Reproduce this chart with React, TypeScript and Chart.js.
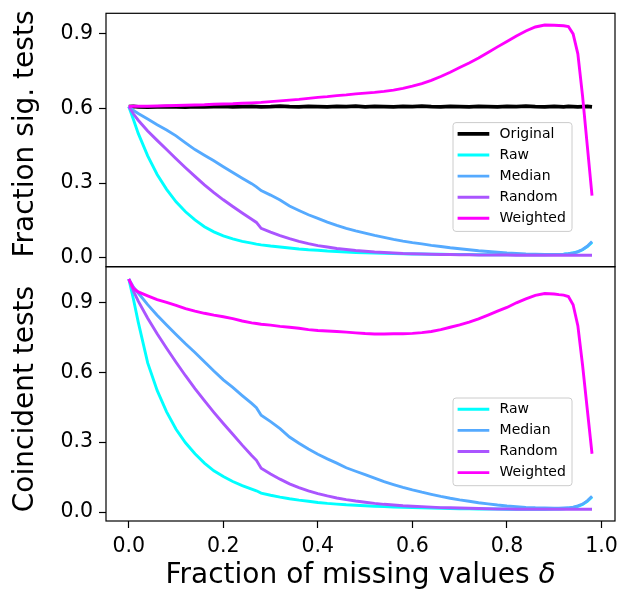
import React, { useEffect, useRef } from "react";
import { Chart, registerables } from "chart.js";
Chart.register(...registerables);

const FONT = "'DejaVu Sans', sans-serif";
const W = 621;
const H = 589;
const AX_LEFT = 106;
const AX_RIGHT = 615;
const TOP1 = 13.3;
const MID = 266.7;
const BOT2 = 521;

// ---- data ----
const xValues = [
  0, 0.01, 0.02, 0.04, 0.06, 0.08, 0.1, 0.12,
  0.14, 0.16, 0.18, 0.2, 0.22, 0.24, 0.26, 0.27,
  0.28, 0.3, 0.32, 0.34, 0.36, 0.38, 0.4, 0.42,
  0.44, 0.46, 0.48, 0.5, 0.52, 0.54, 0.56, 0.58,
  0.6, 0.62, 0.64, 0.66, 0.68, 0.7, 0.72, 0.74,
  0.76, 0.78, 0.8, 0.82, 0.84, 0.86, 0.88, 0.9,
  0.91, 0.92, 0.93, 0.94, 0.95, 0.96, 0.97, 0.98,
];

const topOriginal = [
  0.608, 0.609, 0.607, 0.606, 0.607, 0.608, 0.607, 0.606,
  0.608, 0.607, 0.608, 0.609, 0.607, 0.608, 0.609, 0.608,
  0.607, 0.608, 0.61, 0.608, 0.607, 0.609, 0.608, 0.607,
  0.609, 0.608, 0.61, 0.607, 0.609, 0.608, 0.607, 0.609,
  0.608, 0.61, 0.608, 0.607, 0.609, 0.608, 0.607, 0.609,
  0.608, 0.607, 0.609, 0.608, 0.61, 0.608, 0.607, 0.609,
  0.608, 0.607, 0.609, 0.608, 0.607, 0.608, 0.609, 0.607,
];
const topRaw = [
  0.608, 0.555, 0.5, 0.41, 0.335, 0.275, 0.225, 0.185,
  0.152, 0.125, 0.104, 0.088, 0.076, 0.066, 0.059, 0.055,
  0.052, 0.047, 0.043, 0.039, 0.035, 0.032, 0.03, 0.027,
  0.025, 0.023, 0.021, 0.02, 0.019, 0.018, 0.017, 0.016,
  0.015, 0.015, 0.014, 0.014, 0.013, 0.013, 0.013, 0.012,
  0.012, 0.012, 0.012, 0.012, 0.012, 0.012, 0.012, 0.013,
  0.013, 0.014, 0.016, 0.019, 0.024, 0.032, 0.045, 0.062,
];
const topMedian = [
  0.608, 0.592, 0.58, 0.558, 0.535, 0.514, 0.49, 0.462,
  0.435, 0.412, 0.39, 0.366, 0.343, 0.32, 0.298, 0.285,
  0.27, 0.252, 0.232, 0.208, 0.19, 0.173, 0.158, 0.143,
  0.13, 0.118, 0.108, 0.099, 0.09, 0.082, 0.074, 0.067,
  0.061, 0.056, 0.05, 0.045, 0.04, 0.036, 0.032, 0.028,
  0.025, 0.022, 0.019, 0.017, 0.015, 0.014, 0.013, 0.013,
  0.013, 0.014, 0.016, 0.019, 0.025, 0.033, 0.046, 0.065,
];
const topRandom = [
  0.608, 0.578, 0.553, 0.51, 0.472, 0.435, 0.398, 0.362,
  0.327, 0.293, 0.262, 0.233, 0.206, 0.18, 0.155, 0.142,
  0.118, 0.103, 0.089, 0.077, 0.066, 0.057, 0.049, 0.043,
  0.037, 0.033, 0.029, 0.026, 0.023, 0.021, 0.019, 0.017,
  0.016, 0.015, 0.014, 0.013, 0.013, 0.012, 0.012, 0.011,
  0.011, 0.011, 0.011, 0.01, 0.01, 0.01, 0.01, 0.01,
  0.01, 0.01, 0.01, 0.01, 0.01, 0.01, 0.01, 0.01,
];
const topWeighted = [
  0.608, 0.609, 0.609, 0.609, 0.61, 0.611, 0.612, 0.613,
  0.614, 0.615, 0.617, 0.618, 0.619, 0.621, 0.623, 0.624,
  0.625, 0.628, 0.631, 0.634, 0.637, 0.641, 0.645, 0.648,
  0.652, 0.655, 0.659, 0.662, 0.665, 0.669, 0.674, 0.681,
  0.69, 0.7, 0.713, 0.729, 0.746, 0.765, 0.783, 0.803,
  0.825, 0.848, 0.87, 0.892, 0.912, 0.928, 0.936, 0.935,
  0.934, 0.933, 0.93, 0.9, 0.82, 0.65, 0.45, 0.25,
];

const bottomRaw = [
  1.0, 0.912, 0.815, 0.64, 0.522, 0.43, 0.355, 0.297,
  0.25, 0.21, 0.177, 0.152, 0.131, 0.113, 0.098, 0.091,
  0.081, 0.072, 0.064, 0.057, 0.051, 0.046, 0.041, 0.037,
  0.034, 0.031, 0.029, 0.027, 0.025, 0.023, 0.021, 0.02,
  0.019, 0.018, 0.017, 0.016, 0.015, 0.014, 0.014, 0.013,
  0.013, 0.013, 0.012, 0.012, 0.012, 0.012, 0.012, 0.013,
  0.013, 0.014, 0.016, 0.019, 0.024, 0.032, 0.046, 0.065,
];
const bottomMedian = [
  1.0, 0.965, 0.94, 0.89, 0.845, 0.803, 0.762, 0.722,
  0.685, 0.645, 0.605, 0.567, 0.535, 0.5, 0.466, 0.448,
  0.415, 0.388, 0.358, 0.322, 0.295, 0.27, 0.248, 0.228,
  0.21, 0.19, 0.175, 0.16, 0.145, 0.13, 0.118, 0.106,
  0.095, 0.085, 0.076, 0.067, 0.059, 0.052, 0.046, 0.04,
  0.035, 0.03, 0.026, 0.023, 0.02, 0.018, 0.017, 0.016,
  0.016, 0.017, 0.018, 0.021, 0.026, 0.034, 0.048, 0.068,
];
const bottomRandom = [
  1.0, 0.948, 0.905, 0.832, 0.765, 0.703, 0.643, 0.585,
  0.53, 0.478, 0.428, 0.38, 0.334, 0.287, 0.243, 0.222,
  0.188, 0.163, 0.141, 0.121, 0.105, 0.091, 0.079, 0.069,
  0.06, 0.053, 0.047, 0.042, 0.037, 0.033, 0.03, 0.027,
  0.025, 0.023, 0.021, 0.019, 0.018, 0.017, 0.016, 0.015,
  0.014, 0.013, 0.013, 0.012, 0.012, 0.012, 0.012, 0.012,
  0.012, 0.012, 0.012, 0.012, 0.012, 0.012, 0.012, 0.012,
];
const bottomWeighted = [
  1.0, 0.96, 0.945, 0.928, 0.912, 0.9, 0.887, 0.873,
  0.862, 0.853, 0.845, 0.838, 0.83, 0.82, 0.812, 0.809,
  0.806, 0.802, 0.797, 0.793, 0.789, 0.783, 0.779, 0.777,
  0.775, 0.772, 0.769, 0.766, 0.764, 0.764, 0.765, 0.765,
  0.767, 0.77, 0.775, 0.783, 0.793, 0.803, 0.815, 0.829,
  0.845, 0.862, 0.878, 0.898, 0.915, 0.93, 0.938, 0.936,
  0.933, 0.931, 0.925, 0.89, 0.8, 0.63, 0.44, 0.25,
];

const topLabels = ["Original", "Raw", "Median", "Random", "Weighted"];
const bottomLabels = ["Raw", "Median", "Random", "Weighted"];
const yTickValues = [0, 0.3, 0.6, 0.9];
const xTickValues = [0, 0.2, 0.4, 0.6, 0.8, 1.0];
const xRange = [-0.0482, 1.0286];
const topYRange = [-0.036, 0.983];
const bottomYRange = [-0.0386, 1.053];
const topYTitle = "Fraction sig. tests";
const bottomYTitle = "Coincident tests";
const xTitle = "Fraction of missing values ";
const xTitleSymbol = "δ";

// ---- styles ----
const COLORS: Record<string, string> = {
  Original: "#000000",
  Raw: "#00ffff",
  Median: "#55aaff",
  Random: "#aa55ff",
  Weighted: "#ff00ff",
};
const WIDTHS: Record<string, number> = {
  Original: 3.8,
  Raw: 2.9,
  Median: 2.9,
  Random: 2.9,
  Weighted: 2.9,
};
const TICK_SIZE = 20.5;

function makeDatasets(labels: string[], series: number[][]) {
  return labels.map((label, i) => ({
    label,
    data: xValues.map((x, j) => ({ x, y: series[i][j] })),
    borderColor: COLORS[label],
    backgroundColor: COLORS[label],
    borderWidth: WIDTHS[label],
    pointRadius: 0,
    fill: false,
    tension: 0,
    order: labels.length - i,
  }));
}

const decorPlugin = {
  id: "decor",
  afterDatasetsDraw(chart: any, _args: any, opts: any) {
    const { ctx, chartArea: a } = chart;
    ctx.save();
    // frame
    ctx.strokeStyle = "#000";
    ctx.lineWidth = 1.2;
    ctx.strokeRect(a.left, a.top, a.right - a.left, a.bottom - a.top);

    // legend
    const ds = chart.data.datasets;
    const rowH = 21.1;
    const boxW = 119;
    const boxH = ds.length * rowH + 3.3;
    const bx = a.right - 43 - boxW;
    const by = a.bottom - 35.3 - boxH;
    ctx.beginPath();
    if ((ctx as any).roundRect) (ctx as any).roundRect(bx, by, boxW, boxH, 3);
    else ctx.rect(bx, by, boxW, boxH);
    ctx.fillStyle = "rgba(255,255,255,0.8)";
    ctx.fill();
    ctx.strokeStyle = "#cccccc";
    ctx.lineWidth = 1;
    ctx.stroke();
    ctx.font = `14px ${FONT}`;
    ctx.textAlign = "left";
    ctx.textBaseline = "middle";
    ds.forEach((d: any, i: number) => {
      const cy = by + 11.3 + i * rowH;
      ctx.beginPath();
      ctx.strokeStyle = d.borderColor;
      ctx.lineWidth = d.borderWidth;
      ctx.moveTo(bx + 4.6, cy);
      ctx.lineTo(bx + 36.3, cy);
      ctx.stroke();
      ctx.fillStyle = "#000";
      ctx.fillText(d.label, bx + 46.6, cy);
    });

    // y title
    ctx.font = `28px ${FONT}`;
    ctx.fillStyle = "#000";
    ctx.textAlign = "center";
    ctx.textBaseline = "alphabetic";
    ctx.save();
    ctx.translate(33.3, opts.titleY);
    ctx.rotate(-Math.PI / 2);
    ctx.fillText(opts.yTitle, 0, 0);
    ctx.restore();

    // x title
    if (opts.showX) {
      ctx.textAlign = "left";
      ctx.font = `28px ${FONT}`;
      const w1 = ctx.measureText(xTitle).width;
      ctx.font = `italic 28px ${FONT}`;
      const w2 = ctx.measureText(xTitleSymbol).width;
      const cx = (a.left + a.right) / 2;
      const x0 = cx - (w1 + w2) / 2;
      ctx.font = `28px ${FONT}`;
      ctx.fillText(xTitle, x0, 583.3);
      ctx.font = `italic 28px ${FONT}`;
      ctx.fillText(xTitleSymbol, x0 + w1, 583.3);
    }
    ctx.restore();
  },
};

function yScale(range: number[]) {
  return {
    type: "linear",
    min: range[0],
    max: range[1],
    afterBuildTicks: (s: any) => {
      s.ticks = yTickValues.map((v) => ({ value: v }));
    },
    afterFit: (s: any) => {
      s.width = AX_LEFT;
      s.paddingTop = 0;
      s.paddingBottom = 0;
    },
    ticks: {
      callback: (v: any) => Number(v).toFixed(1),
      color: "#000",
      font: { family: FONT, size: TICK_SIZE },
      padding: 6,
      autoSkip: false,
    },
    grid: {
      drawOnChartArea: false,
      drawTicks: true,
      tickLength: 7,
      tickColor: "#000",
      tickWidth: 1.2,
    },
    border: { display: false },
  };
}

export default function App() {
  const topRef = useRef<HTMLCanvasElement>(null);
  const botRef = useRef<HTMLCanvasElement>(null);

  useEffect(() => {
    const c1 = new Chart(topRef.current as HTMLCanvasElement, {
      type: "line",
      data: {
        datasets: makeDatasets(topLabels, [topOriginal, topRaw, topMedian, topRandom, topWeighted]) as any,
      },
      options: {
        responsive: false,
        animation: false,
        devicePixelRatio: 1,
        layout: { padding: { left: 0, top: TOP1, right: W - AX_RIGHT, bottom: H - MID } },
        plugins: {
          legend: { display: false },
          tooltip: { enabled: false },
          decor: { yTitle: topYTitle, titleY: 134, showX: false },
        } as any,
        scales: {
          x: { type: "linear", min: xRange[0], max: xRange[1], display: false },
          y: yScale(topYRange) as any,
        },
      },
      plugins: [decorPlugin as any],
    });

    const c2 = new Chart(botRef.current as HTMLCanvasElement, {
      type: "line",
      data: {
        datasets: makeDatasets(bottomLabels, [bottomRaw, bottomMedian, bottomRandom, bottomWeighted]) as any,
      },
      options: {
        responsive: false,
        animation: false,
        devicePixelRatio: 1,
        layout: { padding: { left: 0, top: MID, right: W - AX_RIGHT, bottom: 0 } },
        plugins: {
          legend: { display: false },
          tooltip: { enabled: false },
          decor: { yTitle: bottomYTitle, titleY: 399, showX: true },
        } as any,
        scales: {
          x: {
            type: "linear",
            min: xRange[0],
            max: xRange[1],
            afterBuildTicks: (s: any) => {
              s.ticks = xTickValues.map((v) => ({ value: v }));
            },
            afterFit: (s: any) => {
              s.height = H - BOT2;
              s.paddingLeft = 0;
              s.paddingRight = 0;
            },
            ticks: {
              callback: (v: any) => Number(v).toFixed(1),
              color: "#000",
              font: { family: FONT, size: TICK_SIZE },
              padding: 6,
              maxRotation: 0,
              autoSkip: false,
            },
            grid: {
              drawOnChartArea: false,
              drawTicks: true,
              tickLength: 7,
              tickColor: "#000",
              tickWidth: 1.2,
            },
            border: { display: false },
          } as any,
          y: yScale(bottomYRange) as any,
        },
      },
      plugins: [decorPlugin as any],
    });

    return () => {
      c1.destroy();
      c2.destroy();
    };
  }, []);

  return (
    <div style={{ position: "absolute", left: 0, top: 0, width: W, height: H, background: "#fff" }}>
      <canvas ref={topRef} width={W} height={H} style={{ position: "absolute", left: 0, top: 0 }} />
      <canvas ref={botRef} width={W} height={H} style={{ position: "absolute", left: 0, top: 0 }} />
    </div>
  );
}
